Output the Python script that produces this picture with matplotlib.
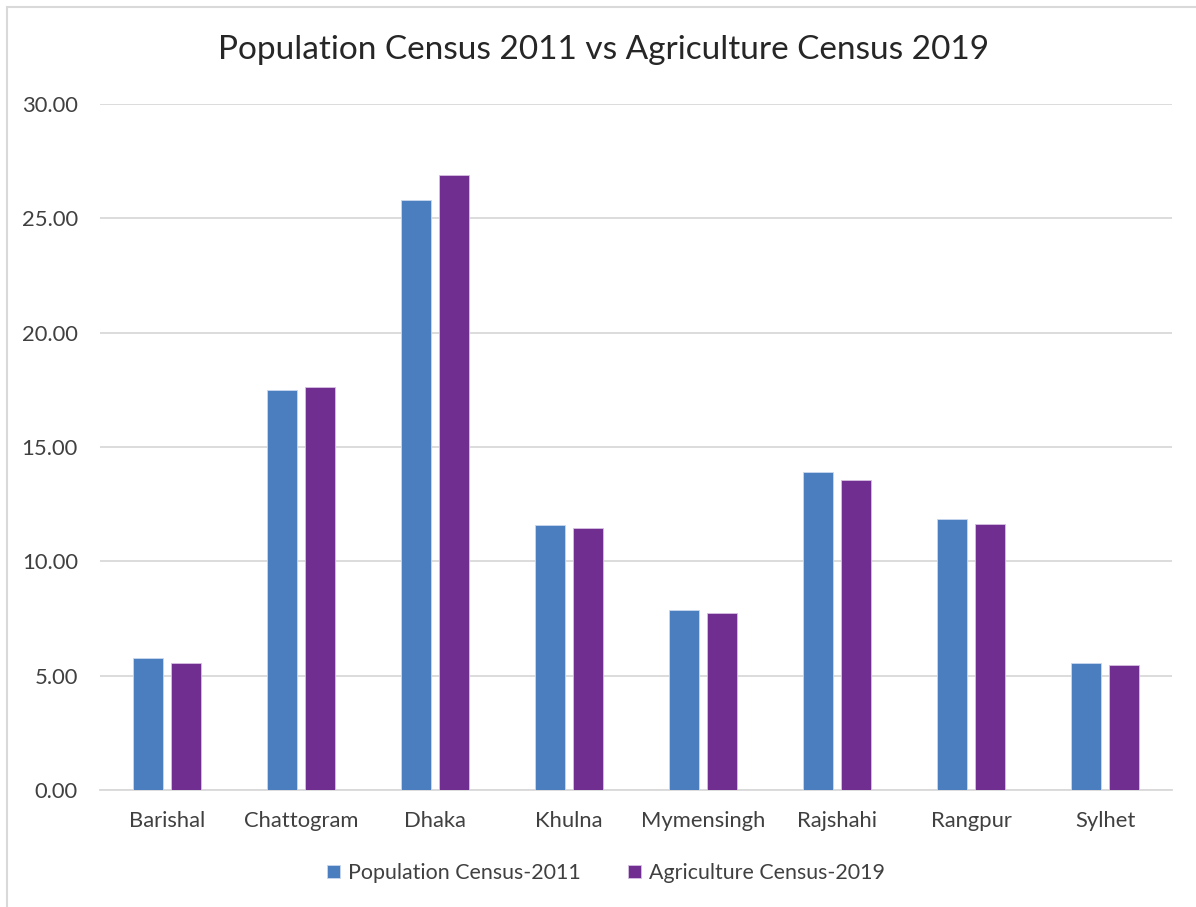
import numpy as np
import matplotlib
matplotlib.use("Agg")
from matplotlib import pyplot as plt
from matplotlib.patches import Rectangle

divisions = ["Barishal", "Chattogram", "Dhaka", "Khulna", "Mymensingh",
             "Rajshahi", "Rangpur", "Sylhet"]
pop_2011 = [5.77, 17.50, 25.82, 11.61, 7.87, 13.92, 11.84, 5.54]
agri_2019 = [5.54, 17.62, 26.89, 11.45, 7.73, 13.56, 11.65, 5.48]
yticks = [0, 5, 10, 15, 20, 25, 30]

plt.rcParams['font.family'] = ['Lato', 'DejaVu Sans']

fig = plt.figure(figsize=(11.96, 9.07), dpi=100)
ax = fig.add_axes([100/1196, 1-790/907, 1072/1196, 686/907])

# chart border (light grey frame, cut off on the right / bottom)
fig.patches.append(Rectangle((7/1196, -0.05), 1.1, 1-7/907+0.05,
                             transform=fig.transFigure, fill=False,
                             edgecolor='#d9d9d9', lw=1.5))

x = np.arange(len(divisions))
w = 0.224
ax.bar(x - 0.142, pop_2011, w, color='#4a7ebf', edgecolor='#c9d8ee', lw=0.6,
       label='Population Census-2011', zorder=3)
ax.bar(x + 0.142, agri_2019, w, color='#702f90', edgecolor='#d5c0e2', lw=0.6,
       label='Agriculture Census-2019', zorder=3)

ax.set_xlim(-0.5, len(divisions) - 0.5)
ax.set_ylim(0, 30)
ax.set_yticks(yticks)
ax.set_yticklabels(['{:.2f}'.format(v) for v in yticks])
ax.set_xticks(x)
ax.set_xticklabels(divisions)
ax.tick_params(axis='both', length=0, labelsize=15.8, colors='#404040')
ax.tick_params(axis='x', pad=15)
ax.tick_params(axis='y', pad=16)
ax.grid(axis='y', color='#d9d9d9', lw=1.3, zorder=0)
for s in ['top', 'right', 'left']:
    ax.spines[s].set_visible(False)
ax.spines['bottom'].set_color('#d9d9d9')
ax.spines['bottom'].set_linewidth(1.3)

fig.text(604/1196, 1-50/907, 'Population Census 2011 vs Agriculture Census 2019',
         ha='center', va='center', fontsize=24, color='#262626')

fig.legend(loc='center', bbox_to_anchor=(606/1196, 1-873/907), ncol=2,
           frameon=False, fontsize=15.4, handlelength=0.6, handleheight=0.6,
           handletextpad=0.4, columnspacing=2.2, labelcolor='#404040')

plt.savefig('out.png', dpi=100)
